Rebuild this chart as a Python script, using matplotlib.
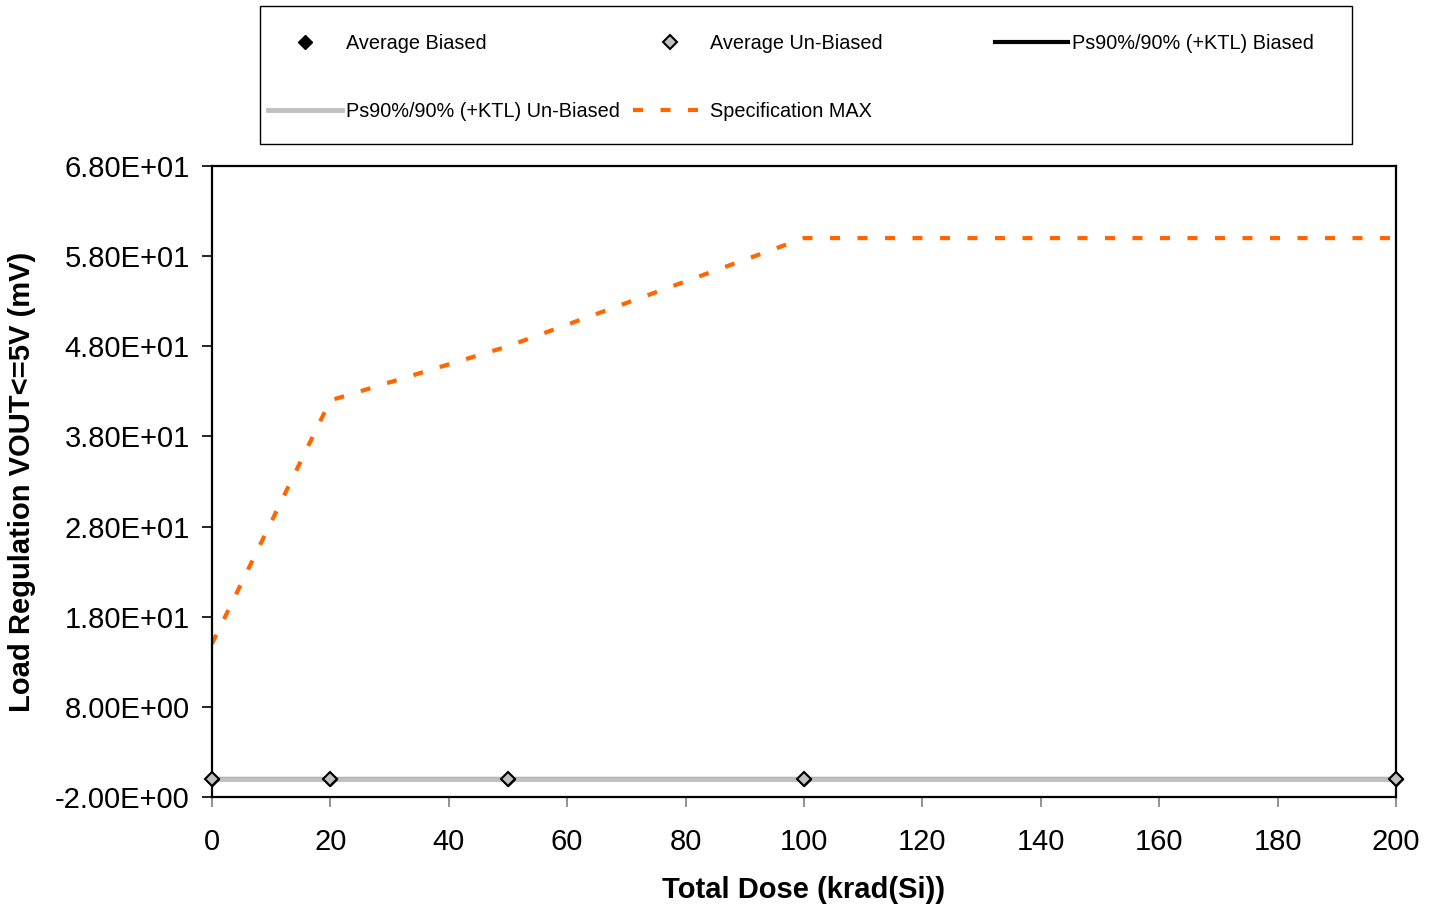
import matplotlib
matplotlib.use("Agg")
import matplotlib.pyplot as plt
from matplotlib.patches import Rectangle
from matplotlib.ticker import FuncFormatter

plt.rcParams['font.family'] = ['Liberation Sans', 'DejaVu Sans']

# data
dose = [0, 20, 50, 100, 200]
avg_biased = [0.0, 0.0, 0.0, 0.0, 0.0]
avg_unbiased = [0.0, 0.0, 0.0, 0.0, 0.0]
ps_biased = [0.0, 0.0, 0.0, 0.0, 0.0]
ps_unbiased = [0.0, 0.0, 0.0, 0.0, 0.0]
spec_max = [15, 42, 48, 60, 60]

y_ticks = [-2, 8, 18, 28, 38, 48, 58, 68]
x_ticks = [0, 20, 40, 60, 80, 100, 120, 140, 160, 180, 200]

fig = plt.figure(figsize=(14.38, 9.08), dpi=100)
ax = fig.add_axes([0.1474, 0.1222, 0.8234, 0.695])

h_ab, = ax.plot(dose, avg_biased, linestyle='none', marker='D', markersize=7,
                color='black', clip_on=False, zorder=3, label='Average Biased')
h_ps_b, = ax.plot(dose, ps_biased, color='black', linewidth=3, zorder=2,
                  label='Ps90%/90% (+KTL) Biased')
h_ps_u, = ax.plot(dose, ps_unbiased, color='#C0C0C0', linewidth=3.5, zorder=2,
                  label='Ps90%/90% (+KTL) Un-Biased')
h_au, = ax.plot(dose, avg_unbiased, linestyle='none', marker='D', markersize=7,
                markerfacecolor='#C0C0C0', markeredgecolor='black',
                markeredgewidth=1.5, clip_on=False, zorder=4,
                label='Average Un-Biased')
h_spec, = ax.plot(dose, spec_max, color='#FF6600', linewidth=3,
                  dashes=(2.4, 4.2), zorder=2, label='Specification MAX')

ax.set_xlim(0, 200)
ax.set_ylim(-2, 68)
ax.set_xticks(x_ticks)
ax.set_yticks(y_ticks)
ax.yaxis.set_major_formatter(FuncFormatter(lambda v, p: '{:.2E}'.format(v)))
ax.tick_params(axis='both', labelsize=21, direction='out', length=7, width=1.2)
ax.tick_params(axis='y', pad=9)
ax.tick_params(axis='x', pad=15, color='#808080')
for s in ax.spines.values():
    s.set_linewidth(1.6)
    s.set_color('black')

ax.set_xlabel('Total Dose (krad(Si))', fontsize=21, fontweight='bold')
ax.xaxis.label.set_va('center')
ax.xaxis.set_label_coords(0.5, -0.148)
ax.set_ylabel('Load Regulation VOUT<=5V (mV)', fontsize=21, fontweight='bold')
ax.yaxis.label.set_va('center')
ax.yaxis.set_label_coords(-0.1605, 0.5)

# legend frame plus three columns laid out like the Excel legend
fig.add_artist(Rectangle((0.1808, 0.8414), 0.7594, 0.152, transform=fig.transFigure,
                         facecolor='white', edgecolor='black', linewidth=1.0))
columns = [([h_ab, h_ps_u], 0.1864), ([h_au, h_spec], 0.4402), ([h_ps_b], 0.6919)]
for hs, x0 in columns:
    fig.legend(hs, [h.get_label() for h in hs], loc='upper left',
               bbox_to_anchor=(x0, 0.9626), frameon=False, fontsize=14.3,
               handlelength=3.7, handletextpad=0.2, labelspacing=2.45,
               borderpad=0, borderaxespad=0)

fig.savefig('out.png', dpi=100)
